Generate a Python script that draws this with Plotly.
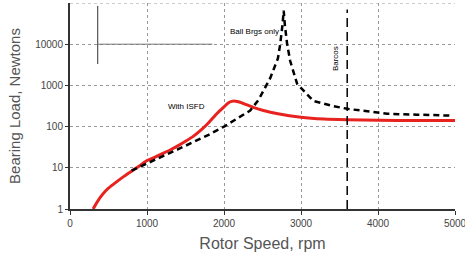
import plotly.graph_objects as go

# With ISFD (red)
isfd_rpm = [300, 350, 400, 450, 500, 600, 700, 800, 900, 1000, 1100, 1200, 1300, 1400, 1500, 1600, 1700, 1800, 1900, 2000, 2050, 2100, 2150, 2200, 2300, 2400, 2500, 2700, 3000, 3300, 3600, 4000, 4500, 5000]
isfd_load = [1, 1.45, 2, 2.6, 3.2, 4.5, 6.2, 8.3, 11, 15, 18, 22, 27, 34, 44, 58, 82, 124, 200, 300, 370, 410, 415, 395, 335, 285, 250, 205, 168, 152, 146, 142, 140, 140]

# Ball bearings only (black dashed)
ball_rpm = [800, 1000, 1200, 1400, 1600, 1800, 2000, 2200, 2340, 2450, 2600, 2700, 2730, 2760, 2775, 2790, 2820, 2860, 2950, 3160, 3400, 3600, 4120, 4500, 4935]
ball_load = [8.5, 13, 19, 28, 42, 63, 100, 165, 245, 450, 1500, 4500, 10000, 30000, 65000, 30000, 10000, 3900, 1090, 420, 320, 270, 205, 195, 185]

barcos_rpm = 3600

x_ticks = [0, 1000, 2000, 3000, 4000, 5000]
y_ticks = [1, 10, 100, 1000, 10000]

fig = go.Figure()
fig.add_trace(go.Scatter(x=isfd_rpm, y=isfd_load, mode="lines", line=dict(color="#e8231f", width=3, shape="spline", smoothing=0.6), showlegend=False, hoverinfo="skip"))
fig.add_trace(go.Scatter(x=ball_rpm, y=ball_load, mode="lines", line=dict(color="black", width=2.5, dash="6px,4px"), showlegend=False, hoverinfo="skip"))
fig.add_trace(go.Scatter(x=[barcos_rpm, barcos_rpm], y=[1, 70000], mode="lines", line=dict(color="black", width=1.5, dash="9px,5px"), showlegend=False, hoverinfo="skip"))

# top gridline
fig.add_shape(type="line", xref="x", yref="y", x0=0, x1=5000, y0=100000, y1=100000, line=dict(color="#999", width=1, dash="dot"))
# small artifact marks near top-left
fig.add_shape(type="line", xref="x", yref="y", x0=360, x1=360, y0=1000 * 3.3, y1=10000 * 8.5, line=dict(color="#333", width=1))
fig.add_shape(type="line", xref="x", yref="y", x0=360, x1=1850, y0=10000, y1=10000, line=dict(color="#777", width=1))

fig.add_annotation(x=2400, y=4.31, xref="x", yref="y", text="Ball Brgs only", showarrow=False, font=dict(size=8, color="black", family="Liberation Sans"))
fig.add_annotation(x=1510, y=2.48, xref="x", yref="y", text="With ISFD", showarrow=False, font=dict(size=8, color="black", family="Liberation Sans"))
fig.add_annotation(x=3440, y=3.66, xref="x", yref="y", text="Barcos", textangle=-90, showarrow=False, font=dict(size=8, color="black", family="Liberation Sans"))

fig.update_layout(
    width=465, height=256,
    margin=dict(l=70, r=10, t=3, b=47, autoexpand=False),
    plot_bgcolor="white", paper_bgcolor="white",
    font=dict(family="Liberation Sans", color="#333"),
)
fig.update_xaxes(
    range=[0, 5000], tickvals=x_ticks, ticktext=[str(v) for v in x_ticks],
    automargin=False, ticklabeloverflow="allow",
    showline=True, linecolor="#333", linewidth=2, mirror=False,
    ticks="outside", ticklen=4, tickcolor="#333",
    showgrid=True, gridcolor="#999", griddash="dot", gridwidth=1,
    zeroline=False, tickfont=dict(size=10, color="#444"),
    title=dict(text="Rotor Speed, rpm", font=dict(size=16, color="#555"), standoff=10),
)
fig.update_yaxes(
    type="log", range=[0, 5], tickvals=y_ticks, ticktext=[str(v) for v in y_ticks],
    automargin=False,
    showline=True, linecolor="#333", linewidth=2,
    ticks="outside", ticklen=3, tickcolor="#333",
    showgrid=True, gridcolor="#999", griddash="dot", gridwidth=1,
    zeroline=False, tickfont=dict(size=10, color="#444"),
    title=dict(text="Bearing Load, Newtons", font=dict(size=15, color="#555"), standoff=11),
)
fig.write_html("out.html", config={"displayModeBar": False},
               post_script="document.body.style.margin='0';document.body.style.overflow='hidden';")
